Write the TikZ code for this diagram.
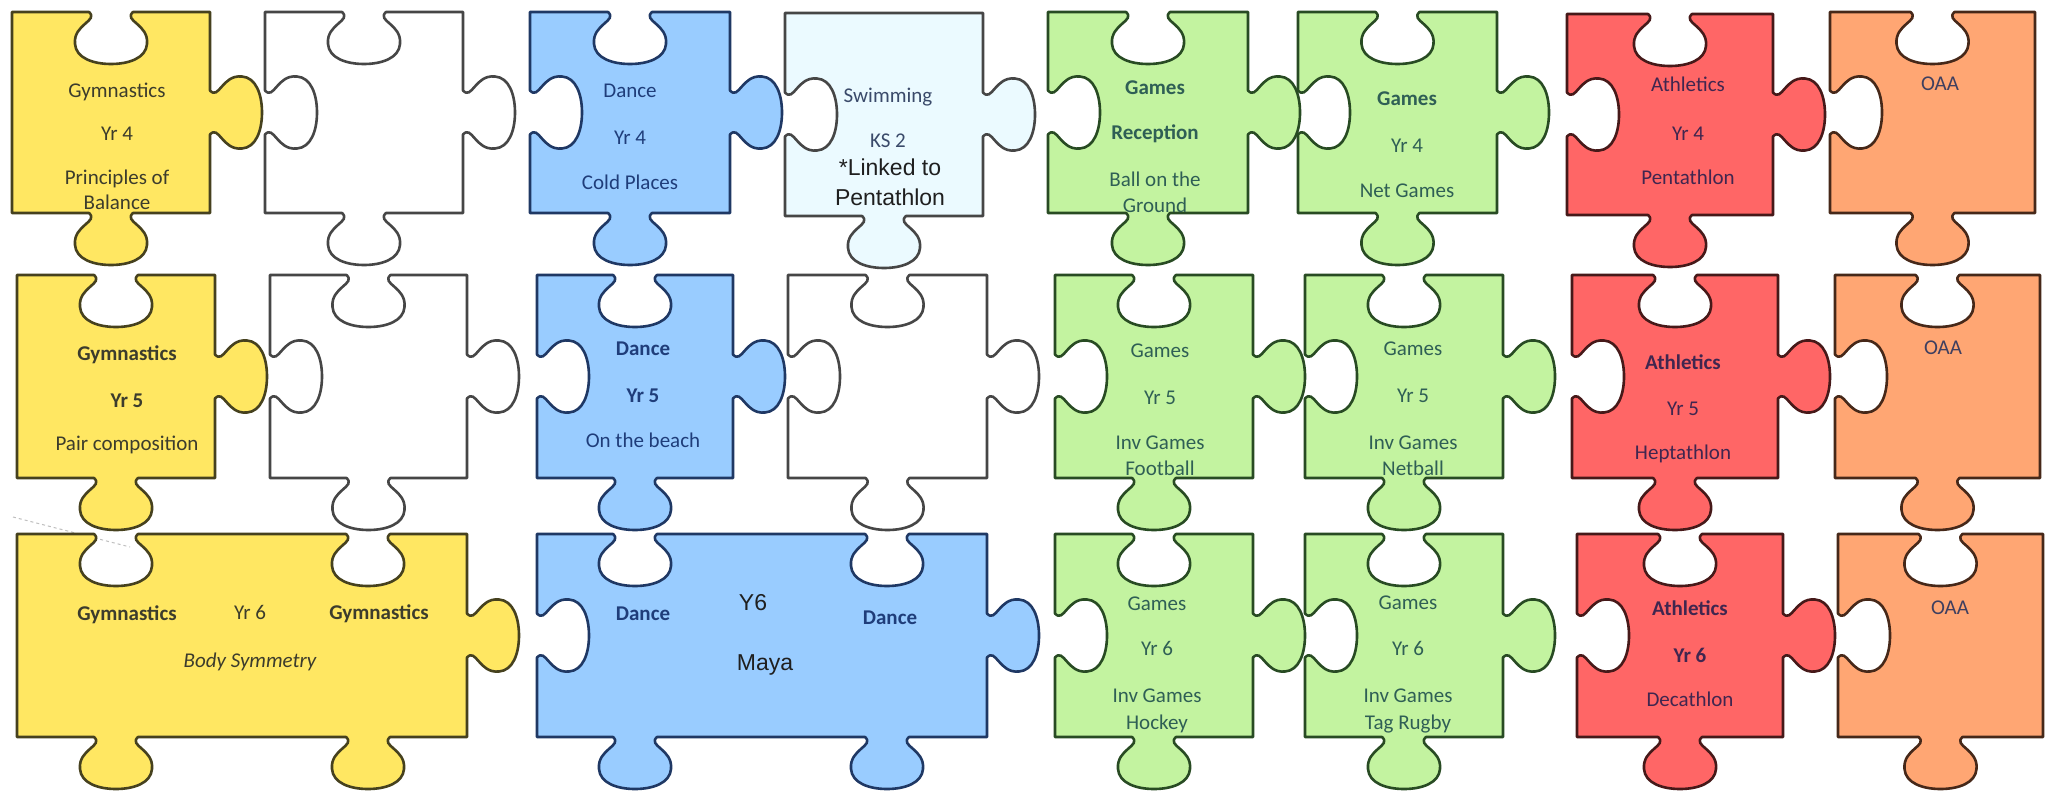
\documentclass[tikz,border=0pt]{standalone}
\usepackage{fontspec}
\setmainfont{Carlito}
\newfontfamily\arialf{Liberation Sans}
\definecolor{ylwF}{RGB}{255,231,98}
\definecolor{ylwD}{RGB}{70,65,30}
\definecolor{ylwT}{RGB}{60,60,44}
\definecolor{bluF}{RGB}{153,204,255}
\definecolor{bluD}{RGB}{31,56,100}
\definecolor{bluT}{RGB}{31,61,122}
\definecolor{swmF}{RGB}{235,250,255}
\definecolor{swmT}{RGB}{58,74,106}
\definecolor{grnF}{RGB}{195,243,160}
\definecolor{grnD}{RGB}{40,75,35}
\definecolor{grnT}{RGB}{47,95,85}
\definecolor{redF}{RGB}{255,102,102}
\definecolor{redD}{RGB}{70,25,25}
\definecolor{redT}{RGB}{64,38,79}
\definecolor{orgF}{RGB}{255,166,115}
\definecolor{orgD}{RGB}{70,40,25}
\definecolor{orgT}{RGB}{63,63,95}
\definecolor{whtD}{RGB}{70,70,70}
% point of a knob: u v cx cy dx dy s
\newcommand\KP[7]{({#3+(#1)*(#5)+(#2)*(#7)*(#6)},{#4+(#1)*(#6)-(#2)*(#7)*(#5)})}
\newcommand\knob[5]{-- \KP{-22}{0}{#1}{#2}{#3}{#4}{#5} .. controls \KP{-12}{9}{#1}{#2}{#3}{#4}{#5} and \KP{-38}{12}{#1}{#2}{#3}{#4}{#5} .. \KP{-36}{32}{#1}{#2}{#3}{#4}{#5} .. controls \KP{-35}{46}{#1}{#2}{#3}{#4}{#5} and \KP{-18}{52}{#1}{#2}{#3}{#4}{#5} .. \KP{0}{52}{#1}{#2}{#3}{#4}{#5} .. controls \KP{18}{52}{#1}{#2}{#3}{#4}{#5} and \KP{35}{46}{#1}{#2}{#3}{#4}{#5} .. \KP{36}{32}{#1}{#2}{#3}{#4}{#5} .. controls \KP{38}{12}{#1}{#2}{#3}{#4}{#5} and \KP{12}{9}{#1}{#2}{#3}{#4}{#5} .. \KP{22}{0}{#1}{#2}{#3}{#4}{#5} }
\newcommand\edgeK[5]{\ifnum#5=0 \else\knob{#1}{#2}{#3}{#4}{#5}\fi}
% L T R B top right bottom left
\newcommand\mkpiece[8]{\edef\pth{(#1,#2) \edgeK{(#1+#3)/2}{#2}{1}{0}{#5} -- (#3,#2) \edgeK{#3}{(#2+#4)/2}{0}{1}{#6} -- (#3,#4) \edgeK{(#1+#3)/2}{#4}{-1}{0}{#7} -- (#1,#4) \edgeK{#1}{(#2+#4)/2}{0}{-1}{#8} -- cycle}}
\newcommand\fsz{\fontsize{21}{25}\selectfont}
\begin{document}
\begin{tikzpicture}[x=1pt,y=-1pt,
  pc/.style={line width=2.6pt,line join=round},
  ylw/.style={pc,fill=ylwF,draw=ylwD},
  blu/.style={pc,fill=bluF,draw=bluD},
  swm/.style={pc,fill=swmF,draw=whtD},
  grn/.style={pc,fill=grnF,draw=grnD},
  rdp/.style={pc,fill=redF,draw=redD},
  org/.style={pc,fill=orgF,draw=orgD},
  wht/.style={pc,fill=white,draw=whtD},
  tx/.style={font=\fsz,anchor=base,inner sep=0pt},
  bf/.style={font=\bfseries\fsz},
  it/.style={font=\itshape\fsz},
  ty/.style={tx,text=ylwT},
  tb/.style={tx,text=bluT},
  ts/.style={tx,text=swmT},
  tg/.style={tx,text=grnT},
  tr/.style={tx,text=redT},
  to/.style={tx,text=orgT},
  ta/.style={anchor=base,inner sep=0pt,font=\arialf\fontsize{23}{26}\selectfont,text=black!88},
  faint/.style={draw=black!25,line width=1pt,dashed}]
\useasboundingbox (0,0) rectangle (2053,792);
\fill[white] (0,0) rectangle (2053,792);
\coordinate (fa) at (13,517);
\coordinate (fb) at (130,547);
\draw[faint] (fa) -- (fb);
% row 1
\mkpiece{12}{12}{210}{213}{-1}{1}{1}{0}\draw[ylw] \pth;
\mkpiece{265}{12}{463}{213}{-1}{1}{1}{-1}\draw[wht] \pth;
\mkpiece{530}{12}{730}{213}{-1}{1}{1}{-1}\draw[blu] \pth;
\mkpiece{785}{13}{983}{216}{0}{1}{1}{-1}\draw[swm] \pth;
\mkpiece{1048}{12}{1248}{213}{-1}{1}{1}{-1}\draw[grn] \pth;
\mkpiece{1298}{12}{1497}{213}{-1}{1}{1}{-1}\draw[grn] \pth;
\mkpiece{1567}{14}{1773}{215}{-1}{1}{1}{-1}\draw[rdp] \pth;
\mkpiece{1830}{12}{2035}{213}{-1}{0}{1}{-1}\draw[org] \pth;
% row 2
\mkpiece{17}{275}{215}{478}{-1}{1}{1}{0}\draw[ylw] \pth;
\mkpiece{270}{275}{467}{478}{-1}{1}{1}{-1}\draw[wht] \pth;
\mkpiece{537}{275}{733}{478}{-1}{1}{1}{-1}\draw[blu] \pth;
\mkpiece{788}{275}{987}{478}{-1}{1}{1}{-1}\draw[wht] \pth;
\mkpiece{1055}{275}{1253}{478}{-1}{1}{1}{-1}\draw[grn] \pth;
\mkpiece{1305}{275}{1503}{478}{-1}{1}{1}{-1}\draw[grn] \pth;
\mkpiece{1572}{275}{1778}{478}{-1}{1}{1}{-1}\draw[rdp] \pth;
\mkpiece{1835}{275}{2040}{478}{-1}{0}{1}{-1}\draw[org] \pth;
% row 3
\edef\pth{(17,534) \knob{116}{534}{1}{0}{-1} \knob{368}{534}{1}{0}{-1} -- (467,534) \knob{467}{635.5}{0}{1}{1} -- (467,737) \knob{368}{737}{-1}{0}{1} \knob{116}{737}{-1}{0}{1} -- (17,737) -- cycle}
\draw[ylw] \pth;
\edef\pth{(537,534) \knob{635}{534}{1}{0}{-1} \knob{887}{534}{1}{0}{-1} -- (987,534) \knob{987}{635.5}{0}{1}{1} -- (987,737) \knob{887}{737}{-1}{0}{1} \knob{635}{737}{-1}{0}{1} -- (537,737) \knob{537}{635.5}{0}{-1}{-1} -- cycle}
\draw[blu] \pth;
\mkpiece{1055}{534}{1253}{737}{-1}{1}{1}{-1}\draw[grn] \pth;
\mkpiece{1305}{534}{1503}{737}{-1}{1}{1}{-1}\draw[grn] \pth;
\mkpiece{1577}{534}{1783}{737}{-1}{1}{1}{-1}\draw[rdp] \pth;
\mkpiece{1838}{534}{2043}{737}{-1}{0}{1}{-1}\draw[org] \pth;
% ---- labels row 1
\node[ty] (a1) at (117,97) {Gymnastics};
\node[ty] (a2) at (117,140) {Yr 4};
\node[ty] (a3) at (117,184) {Principles of};
\node[ty] (a4) at (117,209) {Balance};
\node[tb] (b1) at (630,97) {Dance};
\node[tb] (b2) at (630,144) {Yr 4};
\node[tb] (b3) at (630,189) {Cold Places};
\node[ts] (c1) at (888,102) {Swimming};
\node[ts] (c2) at (888,147) {KS 2};
\node[ta] (c3) at (890,175) {*Linked to};
\node[ta] (c4) at (890,205) {Pentathlon};
\node[tg,bf] (d1) at (1155,95) {Games};
\node[tg,bf] (d2) at (1155,139) {Reception};
\node[tg] (d3) at (1155,186) {Ball on the};
\node[tg] (d4) at (1155,212) {Ground};
\node[tg,bf] (e1) at (1407,105) {Games};
\node[tg] (e2) at (1407,152) {Yr 4};
\node[tg] (e3) at (1407,197) {Net Games};
\node[tr] (f1) at (1688,92) {Athletics};
\node[tr] (f2) at (1688,140) {Yr 4};
\node[tr] (f3) at (1688,184) {Pentathlon};
\node[to] (g1) at (1940,90) {OAA};
% ---- labels row 2
\node[ty,bf] (h1) at (127,360) {Gymnastics};
\node[ty,bf] (h2) at (127,407) {Yr 5};
\node[ty] (h3) at (127,450) {Pair composition};
\node[tb,bf] (i1) at (643,355) {Dance};
\node[tb,bf] (i2) at (643,402) {Yr 5};
\node[tb] (i3) at (643,447) {On the beach};
\node[tg] (j1) at (1160,357) {Games};
\node[tg] (j2) at (1160,404) {Yr 5};
\node[tg] (j3) at (1160,449) {Inv Games};
\node[tg] (j4) at (1160,475) {Football};
\node[tg] (k1) at (1413,355) {Games};
\node[tg] (k2) at (1413,402) {Yr 5};
\node[tg] (k3) at (1413,449) {Inv Games};
\node[tg] (k4) at (1413,475) {Netball};
\node[tr,bf] (l1) at (1683,369) {Athletics};
\node[tr] (l2) at (1683,415) {Yr 5};
\node[tr] (l3) at (1683,459) {Heptathlon};
\node[to] (m1) at (1943,354) {OAA};
% ---- labels row 3
\node[ty,bf] (n1) at (127,620) {Gymnastics};
\node[ty] (n2) at (250,619) {Yr 6};
\node[ty,bf] (n3) at (379,619) {Gymnastics};
\node[ty,it] (n4) at (250,667) {Body Symmetry};
\node[tb,bf] (o1) at (643,620) {Dance};
\node[ta] (o2) at (753,610) {Y6};
\node[tb,bf] (o3) at (890,624) {Dance};
\node[ta] (o4) at (765,670) {Maya};
\node[tg] (p1) at (1157,610) {Games};
\node[tg] (p2) at (1157,655) {Yr 6};
\node[tg] (p3) at (1157,702) {Inv Games};
\node[tg] (p4) at (1157,729) {Hockey};
\node[tg] (q1) at (1408,609) {Games};
\node[tg] (q2) at (1408,655) {Yr 6};
\node[tg] (q3) at (1408,702) {Inv Games};
\node[tg] (q4) at (1408,729) {Tag Rugby};
\node[tr,bf] (r1) at (1690,615) {Athletics};
\node[tr,bf] (r2) at (1690,662) {Yr 6};
\node[tr] (r3) at (1690,706) {Decathlon};
\node[to] (s1) at (1950,614) {OAA};
\end{tikzpicture}
\end{document}
